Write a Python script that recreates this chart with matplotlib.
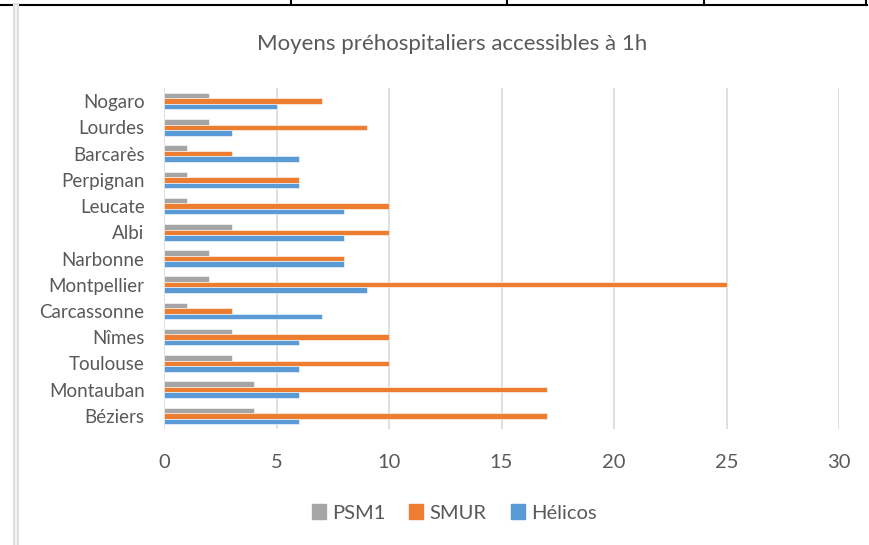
import numpy as np
import matplotlib.pyplot as plt
from matplotlib.lines import Line2D

# données (de haut en bas comme sur le graphique)
villes = ['Nogaro', 'Lourdes', 'Barcarès', 'Perpignan', 'Leucate', 'Albi', 'Narbonne',
          'Montpellier', 'Carcassonne', 'Nîmes', 'Toulouse', 'Montauban', 'Béziers']
psm1 = [2, 2, 1, 1, 1, 3, 2, 2, 1, 3, 3, 4, 4]
smur = [7, 9, 3, 6, 10, 10, 8, 25, 3, 10, 10, 17, 17]
helicos = [5, 3, 6, 6, 8, 8, 8, 9, 7, 6, 6, 6, 6]

series = [('PSM1', psm1, '#A5A5A5'), ('SMUR', smur, '#ED7D31'), ('Hélicos', helicos, '#5B9BD5')]

plt.rcParams['font.family'] = ['Lato', 'DejaVu Sans']
txt = '#595959'

fig = plt.figure(figsize=(8.69, 5.45), dpi=100)
ax = fig.add_axes([164 / 869, 1 - 429 / 545, 675 / 869, 341 / 545])

n = len(villes)
y = np.arange(n)[::-1]
h = 0.21
for k, (nom, vals, col) in enumerate(series):
    ax.barh(y + (1 - k) * h, vals, height=h, color=col, label=nom,
            edgecolor='white', linewidth=0.4, zorder=3)

ax.set_xlim(0, 30)
ax.set_ylim(-0.5, n - 0.5)
ax.set_xticks(range(0, 31, 5))
ax.set_yticks(y)
ax.set_yticklabels(villes)
ax.tick_params(axis='y', length=0, labelsize=13.5, colors=txt, pad=14)
ax.tick_params(axis='x', length=0, labelsize=14.5, colors=txt, pad=18)
ax.grid(axis='x', color='#D9D9D9', linewidth=1.2, zorder=0)
for s in ax.spines.values():
    s.set_visible(False)

fig.text(452 / 869, 1 - 44 / 545, 'Moyens préhospitaliers accessibles à 1h',
         ha='center', va='center', fontsize=16, color=txt)

handles = [plt.Rectangle((0, 0), 1, 1, color=c) for _, _, c in series]
fig.legend(handles, [s[0] for s in series], loc='center', bbox_to_anchor=(454 / 869, 1 - 513 / 545),
           ncol=3, frameon=False, fontsize=14.5, labelcolor=txt, handlelength=0.7, handleheight=0.7,
           handletextpad=0.3, columnspacing=1.2)

# bordures du document autour du graphique
fig.add_artist(Line2D([0, 867 / 869], [1 - 5 / 545] * 2, color='black', lw=1.5))
for xv in [291, 507, 704, 866]:
    fig.add_artist(Line2D([xv / 869] * 2, [1, 1 - 5 / 545], color='black', lw=1.5))
fig.add_artist(Line2D([16 / 869] * 2, [0, 1 - 6 / 545], color='#E0E0E0', lw=4.5))
fig.add_artist(Line2D([16 / 869] * 2, [0, 1 - 6 / 545], color='#F2F2F2', lw=1.5))

fig.savefig('out.png', dpi=100)
